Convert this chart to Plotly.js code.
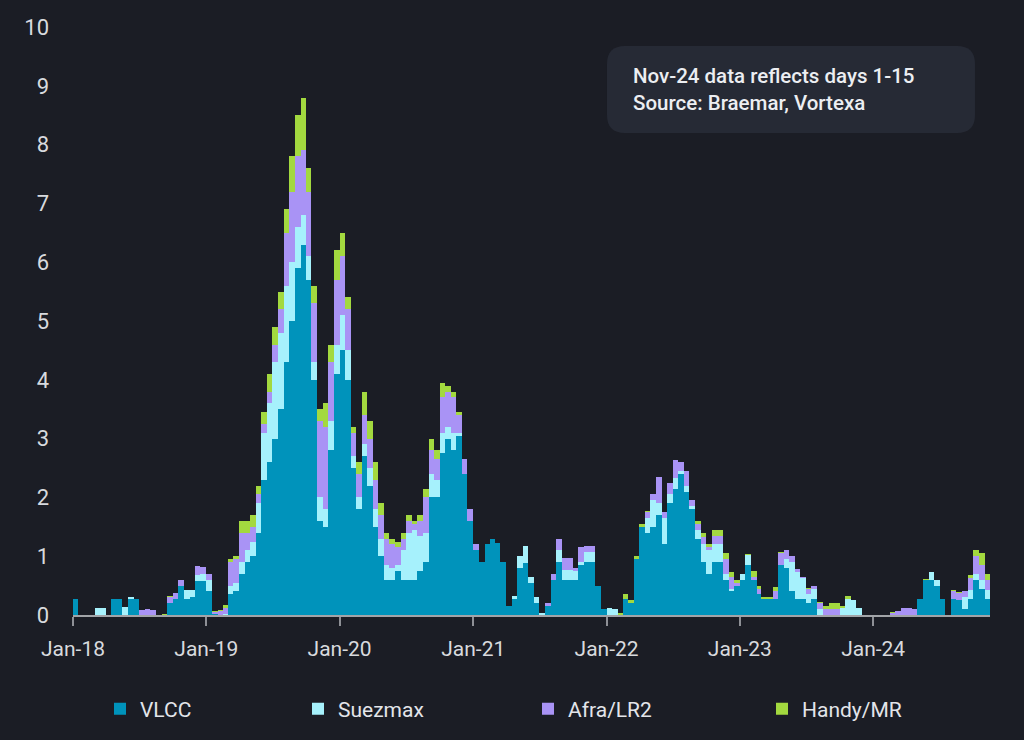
<!DOCTYPE html>
<html>
<head>
<meta charset="utf-8">
<script src="https://cdn.plot.ly/plotly-3.0.1.min.js"></script>
<style>
  html, body { margin: 0; padding: 0; background: #1b1d25; }
  #chart { width: 1024px; height: 740px; }
</style>
</head>
<body>
<div id="chart"></div>
<script>
// Half-month periods, Jan-18 (first half) to Nov-24 (first half, days 1-15)
const seriesNames = ["VLCC", "Suezmax", "Afra/LR2", "Handy/MR"];
const tickLabelFormat = "%b-%y";

// VLCC (one row per year, 24 half-month values; 2024 ends with Nov 1-15)
const vlcc = [
  0.27,0,0,0,0,0,0,0.27,0.27,0,0.27,0.27,0,0,0,0,0,0.2,0.27,0.5,0.27,0.3,0.58,0.58,
  0.4,0.02,0,0,0.35,0.4,0.7,0.9,1.0,1.4,2.3,2.6,3.0,3.5,4.3,5.0,5.9,6.3,5.7,4.0,1.6,1.5,2.8,4.1,
  4.5,4.0,2.5,1.8,2.7,2.2,1.5,1.0,0.6,0.6,0.75,0.6,0.6,0.6,0.75,0.9,2.0,2.0,2.75,3.0,2.8,3.05,2.4,1.6,
  1.1,0.9,1.2,1.3,1.22,0.9,0.15,0.28,0.8,0.88,0.55,0.2,0,0.15,0.6,0.9,0.6,0.6,0.6,0.85,0.9,0.9,0.5,0.1,
  0,0,0,0.28,0.2,0.95,1.5,1.4,1.5,1.7,1.2,1.9,2.15,2.4,2.1,1.8,1.3,0.9,0.7,0.9,0.9,0.6,0.4,0.5,
  0.6,0.85,0.6,0.35,0.28,0.28,0.28,0.85,0.8,0.4,0.28,0.28,0.2,0.28,0,0,0,0,0,0,0,0,0,0,
  0,0,0,0,0,0,0,0,0.28,0.6,0.6,0.5,0.28,0,0.28,0.25,0.1,0.28,0.6,0.45,0.28
];
const suezmax = [
  0,0,0,0,0.12,0.12,0,0,0,0.13,0.03,0,0,0,0,0,0,0,0,0,0.15,0.13,0.1,0.12,
  0.2,0,0,0.02,0.15,0.15,0.2,0.2,0.25,0.5,0.8,1.0,1.3,1.3,1.3,1.0,0.7,0.5,0.4,0.3,0.4,0.3,0.5,0.5,
  0.6,0.5,0.2,0.2,0.2,0.3,0.3,0.3,0.25,0.2,0.1,0.5,0.8,0.85,0.6,0.5,0.4,0.3,0.35,0.2,0.3,0.05,0,0,
  0,0,0,0,0,0,0,0.05,0.2,0.3,0.1,0.1,0.03,0,0,0.2,0.17,0.17,0.15,0.05,0.18,0.18,0,0,
  0.12,0.1,0,0,0,0,0,0.25,0.45,0.2,0.45,0.15,0.18,0.05,0.1,0.05,0.15,0.3,0.4,0.3,0.3,0.1,0.05,0,
  0.1,0.17,0,0,0,0,0,0,0.15,0.5,0.45,0.35,0.15,0.17,0.1,0,0,0,0.12,0.28,0.25,0.12,0,0,
  0,0,0,0,0,0,0,0,0,0,0.13,0.1,0,0,0,0,0.2,0.15,0.1,0.15,0.15
];
const afra = [
  0,0,0,0,0,0,0,0,0,0,0,0,0.08,0.1,0.08,0,0,0.1,0.11,0.1,0,0,0.15,0.12,
  0.1,0.03,0.06,0.1,0.4,0.4,0.5,0.3,0.25,0.15,0.15,0.2,0.3,0.4,0.9,1.2,1.2,1.1,1.1,1.0,1.3,1.4,1.0,1.1,
  1.0,0.7,0.4,0.4,0.5,0.5,0.5,0.4,0.45,0.4,0.3,0.2,0.2,0.1,0.25,0.6,0.4,0.35,0.6,0.6,0.6,0.3,0.25,0.2,
  0.1,0,0,0,0,0,0,0,0,0,0,0,0,0.05,0.1,0.2,0.2,0.2,0.05,0.25,0.09,0.09,0,0,
  0,0,0,0,0,0,0,0.1,0.1,0.45,0.1,0.2,0.3,0.15,0.25,0.1,0.1,0.12,0.05,0.15,0.15,0.25,0.2,0.05,
  0,0,0.05,0.1,0,0,0.12,0.2,0.15,0.1,0.05,0.02,0.1,0.05,0.1,0.1,0.1,0.1,0,0,0,0,0,0,
  0,0,0,0.04,0.07,0.12,0.12,0.1,0,0,0,0,0,0,0.12,0.12,0.1,0.2,0.3,0.25,0.17
];
const handy = [
  0,0,0,0,0,0,0,0,0,0,0,0,0,0,0,0,0.02,0.03,0,0,0,0,0,0,
  0,0.02,0.03,0.05,0.05,0.05,0.2,0.2,0.2,0.15,0.2,0.3,0.3,0.3,0.4,0.6,0.7,0.9,0.4,0.3,0.2,0.4,0.3,0.5,
  0.4,0.2,0.1,0.2,0.4,0.3,0.3,0.2,0.1,0.1,0.1,0.1,0.1,0.05,0.1,0.15,0.2,0.15,0.25,0.1,0.1,0.05,0,0,
  0,0,0,0,0,0,0,0,0,0,0,0,0,0,0,0,0,0,0,0,0,0,0,0,
  0,0.01,0.03,0.08,0.05,0.05,0.05,0.02,0,0,0,0,0,0,0,0,0.05,0.08,0.05,0.1,0.1,0.1,0.08,0.05,
  0,0.02,0.1,0.05,0.03,0.03,0.08,0.02,0,0,0,0,0.01,0,0.02,0.05,0.1,0.1,0.03,0.04,0.01,0,0,0,
  0,0,0,0.01,0,0,0,0,0,0.02,0,0,0,0,0.03,0.02,0,0.05,0.1,0.2,0.1
];

// Period start dates (1st and 16th of each month), last period Nov 1-15 2024
function pad(n){ return (n < 10 ? "0" : "") + n; }
const periodStarts = [];
for (let y = 2018; y <= 2024; y++) {
  for (let m = 1; m <= 12; m++) {
    for (const d of [1, 16]) {
      if (y === 2024 && (m > 11 || (m === 11 && d === 16))) continue;
      periodStarts.push(y + "-" + pad(m) + "-" + pad(d));
    }
  }
}
const periodEnd = "2024-11-16";
function ms(s){ const p = s.split("-").map(Number); return Date.UTC(p[0], p[1]-1, p[2]); }
const widths = periodStarts.map((s, i) =>
  ms(i + 1 < periodStarts.length ? periodStarts[i + 1] : periodEnd) - ms(s));

const colors = ["#0093bb", "#a6f1fc", "#a993f5", "#a3d93f"];
const values = [vlcc, suezmax, afra, handy];
const legendIds = ["legend", "legend2", "legend3", "legend4"];

const traces = values.map((v, i) => ({
  type: "bar",
  name: seriesNames[i],
  x: periodStarts,
  y: v,
  width: widths,
  offset: 0,
  marker: { color: colors[i], line: { width: 0 } },
  legend: legendIds[i],
  showlegend: true,
  hoverinfo: "skip"
}));

// plot area in pixels
const L = 73, R = 990, T = 27, B = 615;
const px2x = X => (X - L) / (R - L);
const px2y = Y => (B - Y) / (B - T);
function roundRect(x0, y0, x1, y1, r) {
  const P = (X, Y) => px2x(X).toFixed(5) + "," + px2y(Y).toFixed(5);
  return "M" + P(x0 + r, y0) + " L" + P(x1 - r, y0) + " Q" + P(x1, y0) + " " + P(x1, y0 + r) +
    " L" + P(x1, y1 - r) + " Q" + P(x1, y1) + " " + P(x1 - r, y1) +
    " L" + P(x0 + r, y1) + " Q" + P(x0, y1) + " " + P(x0, y1 - r) +
    " L" + P(x0, y0 + r) + " Q" + P(x0, y0) + " " + P(x0 + r, y0) + " Z";
}

const legendBase = {
  orientation: "h", yanchor: "middle", xanchor: "left", y: -0.16,
  bgcolor: "rgba(0,0,0,0)", font: { family: "Roboto, sans-serif", size: 21, color: "#e3e5ea" }
};
// legend text starts at 141, 339, 569, 803 px
const legendX = [100, 298, 528, 762].map(px2x);

const layout = {
  width: 1024, height: 740,
  showlegend: true,
  paper_bgcolor: "#1b1d25", plot_bgcolor: "#1b1d25",
  margin: { l: L, r: 1024 - R, t: T, b: 740 - B, autoexpand: false },
  barmode: "stack", bargap: 0,
  font: { family: "Roboto, sans-serif", color: "#d8dade" },
  xaxis: {
    type: "date",
    range: [periodStarts[0], periodEnd],
    tick0: "2018-01-01", dtick: "M12", tickformat: tickLabelFormat,
    ticks: "outside", ticklen: 9, tickwidth: 2, tickcolor: "#8e9096",
    ticklabelstandoff: 5,
    showline: true, linecolor: "#a2a4a8", linewidth: 2,
    showgrid: false, zeroline: false,
    tickfont: { family: "Roboto, sans-serif", size: 21, color: "#d8dade" },
    fixedrange: true
  },
  yaxis: {
    range: [0, 10], dtick: 1, tick0: 0,
    ticks: "", showline: false, showgrid: false, zeroline: false,
    ticklabelstandoff: 23,
    tickfont: { family: "Roboto, sans-serif", size: 22, color: "#d8dade" },
    fixedrange: true
  },
  legend: Object.assign({}, legendBase, { x: legendX[0] }),
  legend2: Object.assign({}, legendBase, { x: legendX[1] }),
  legend3: Object.assign({}, legendBase, { x: legendX[2] }),
  legend4: Object.assign({}, legendBase, { x: legendX[3] }),
  shapes: [{
    type: "path", xref: "paper", yref: "paper",
    path: roundRect(607, 46, 975, 133, 18),
    fillcolor: "#262a35", line: { width: 0 }, layer: "above"
  }],
  annotations: [{
    xref: "paper", yref: "paper",
    x: px2x(631), y: px2y(89), xanchor: "left", yanchor: "middle",
    align: "left", showarrow: false,
    text: "Nov-24 data reflects days 1-15<br>Source: Braemar, Vortexa",
    font: { family: "Roboto, sans-serif", size: 20.5, color: "#eceef2", weight: 500 }
  }]
};

Plotly.newPlot("chart", traces, layout, { displayModeBar: false, staticPlot: true });
</script>
</body>
</html>
